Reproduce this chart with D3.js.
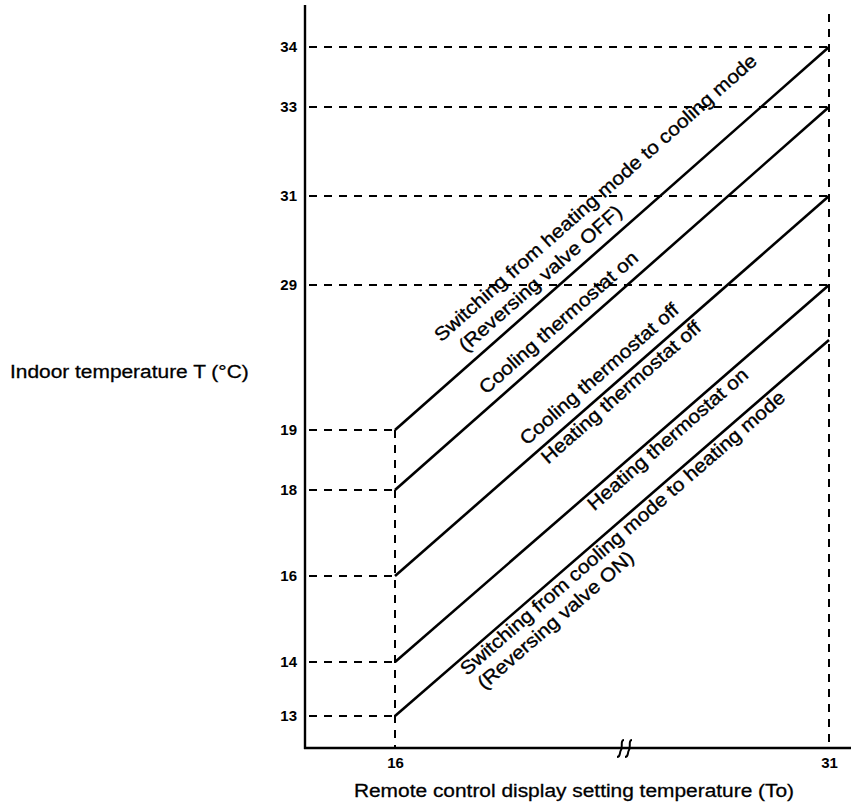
<!DOCTYPE html>
<html><head><meta charset="utf-8">
<script src="https://cdn.jsdelivr.net/npm/d3@7"></script>
<style>body{margin:0;background:#fff}svg{display:block}</style>
</head><body><svg id="c" width="853" height="807"></svg>
<script>
// ---- data ----
const xTickValues = [16, 31];
const yTickValues = [13, 14, 16, 18, 19, 29, 31, 33, 34];
const lineStart = [19, 18, 16, 14, 13];   // T at To = 16
const lineEnd   = [34, 33, 31, 29, 28];   // T at To = 31
const labelText = [
  "Switching from heating mode to cooling mode",
  "(Reversing valve OFF)",
  "Cooling thermostat on",
  "Cooling thermostat off",
  "Heating thermostat off",
  "Heating thermostat on",
  "Switching from cooling mode to heating mode",
  "(Reversing valve ON)"
];
const labelLine = [0, 0, 1, 2, 2, 3, 4, 4];
const labelAt   = [18.4, 18.7, 19.4, 20.8, 20.9, 22.5, 18.1, 18.2];
const labelRow  = [2, 1, 1, 1, -1, -1, -1, -2];
const xTitle = "Remote control display setting temperature (To)";
const yTitle = "Indoor temperature T (°C)";

// ---- layout ----
const svg = d3.select("#c");
const axisX = 305, axisY = 748;
const x = d3.scaleLinear().domain([16, 31]).range([395, 829]);
// broken (piecewise) vertical scale
const y = d3.scaleLinear()
  .domain([13, 14, 16, 18, 19, 28, 29, 31, 33, 34])
  .range([716, 662, 576, 490, 430, 340, 285, 196, 107, 47]);

const FONT = "'Liberation Sans', Arial, Helvetica, sans-serif";
const SX = 1.1;
const dash = "8,7";

// dashed guide lines
const g = svg.append("g").attr("stroke", "#000").attr("stroke-width", 2)
  .attr("stroke-dasharray", dash).attr("fill", "none");
yTickValues.forEach(v => {
  const xe = v >= 29 ? x(31) : x(16);
  g.append("line").attr("x1", axisX + 4).attr("x2", xe).attr("y1", y(v)).attr("y2", y(v));
});
g.append("line").attr("x1", x(16)).attr("x2", x(16)).attr("y1", y(19)).attr("y2", axisY);
g.append("line").attr("x1", x(31)).attr("x2", x(31)).attr("y1", 14).attr("y2", axisY);

// axes
const yAxis = d3.axisLeft(y).tickValues(yTickValues).tickSize(0).tickPadding(8).tickFormat(d3.format("d"));
const yg = svg.append("g").attr("transform", `translate(${axisX},0)`).call(yAxis);
yg.select(".domain").remove();
yg.selectAll("text").attr("font-family", FONT).attr("font-size", 15).attr("font-weight", "bold").attr("fill", "#000");
svg.append("line").attr("x1", axisX).attr("x2", axisX).attr("y1", 5).attr("y2", axisY + 1)
  .attr("stroke", "#000").attr("stroke-width", 2.4);

const xAxis = d3.axisBottom(x).tickValues(xTickValues).tickSize(0).tickPadding(9).tickFormat(d3.format("d"));
const xg = svg.append("g").attr("transform", `translate(0,${axisY})`).call(xAxis);
xg.select(".domain").remove();
xg.selectAll("text").attr("font-family", FONT).attr("font-size", 15).attr("font-weight", "bold").attr("fill", "#000");
svg.append("line").attr("x1", axisX - 1).attr("x2", 851).attr("y1", axisY).attr("y2", axisY)
  .attr("stroke", "#000").attr("stroke-width", 2.4);

// axis break mark
const bx = 625;
const brk = svg.append("g").attr("transform", `translate(${bx},${axisY})`)
  .attr("fill", "none").attr("stroke", "#000").attr("stroke-width", 2);
[-4, 4].forEach(dx => {
  brk.append("path").attr("d", `M${dx + 3},-8 C${dx - 1},-8 ${dx + 2},0 ${dx},2 C${dx - 2},5 ${dx},9 ${dx - 4},9`);
});

// main lines
const lines = svg.append("g").attr("stroke", "#000").attr("stroke-width", 2.6);
lineStart.forEach((s, i) => {
  lines.append("line").attr("x1", x(16)).attr("y1", y(s)).attr("x2", x(31)).attr("y2", y(lineEnd[i]));
});

// rotated labels
const rowOff = {2: 35, 1: 11, "-1": -17, "-2": -39};
labelText.forEach((t, i) => {
  const li = labelLine[i];
  const x0 = x(16), y0 = y(lineStart[li]), x1 = x(31), y1 = y(lineEnd[li]);
  const a = Math.atan2(y0 - y1, x1 - x0);
  const u = (labelAt[i] - 16) / 15;
  const px = x0 + u * (x1 - x0), py = y0 + u * (y1 - y0);
  const off = rowOff[labelRow[i]];
  const tx = px - off * Math.sin(a), ty = py - off * Math.cos(a);
  svg.append("text").text(t)
    .attr("transform", `translate(${tx},${ty}) rotate(${-a * 180 / Math.PI}) scale(${SX},1)`)
    .attr("font-family", FONT).attr("font-size", 19).attr("fill", "#000")
    .attr("stroke", "#000").attr("stroke-width", 0.35);
});

// axis titles
svg.append("text").text(xTitle).attr("x", 574 / SX).attr("y", 797)
  .attr("transform", `scale(${SX},1)`).attr("text-anchor", "middle")
  .attr("font-family", FONT).attr("font-size", 19).attr("fill", "#000")
  .attr("stroke", "#000").attr("stroke-width", 0.3);
svg.append("text").text(yTitle).attr("x", 10 / SX).attr("y", 378)
  .attr("transform", `scale(${SX},1)`)
  .attr("font-family", FONT).attr("font-size", 19).attr("fill", "#000")
  .attr("stroke", "#000").attr("stroke-width", 0.3);
</script></body></html>
